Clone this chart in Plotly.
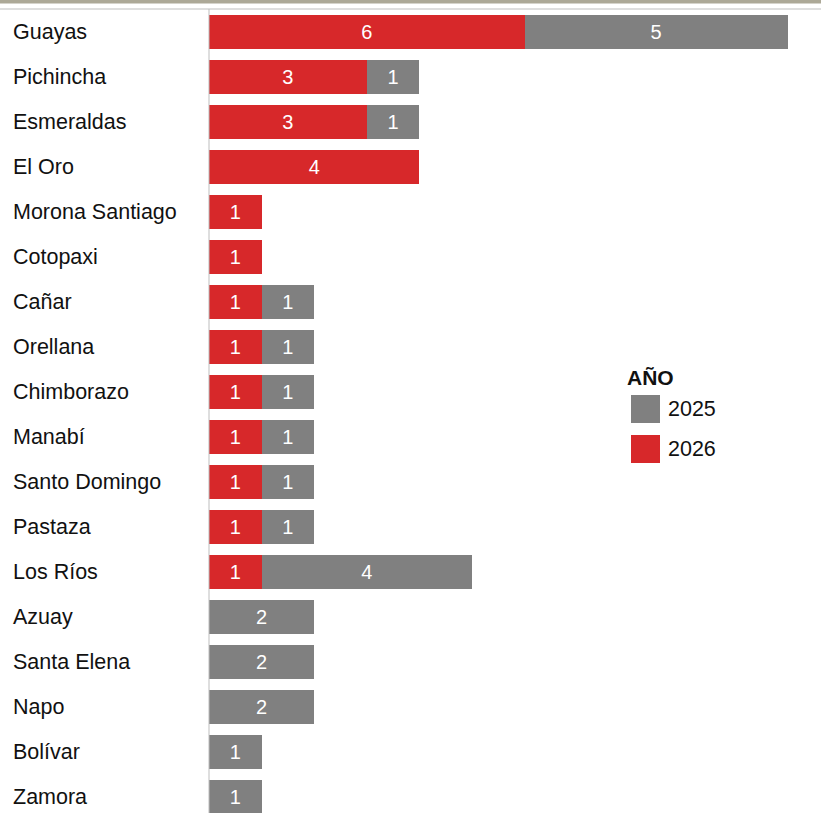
import plotly.graph_objects as go

provincias = ["Guayas", "Pichincha", "Esmeraldas", "El Oro", "Morona Santiago", "Cotopaxi",
              "Cañar", "Orellana", "Chimborazo", "Manabí", "Santo Domingo", "Pastaza",
              "Los Ríos", "Azuay", "Santa Elena", "Napo", "Bolívar", "Zamora"]
v2026 = [6, 3, 3, 4, 1, 1, 1, 1, 1, 1, 1, 1, 1, None, None, None, None, None]
v2025 = [5, 1, 1, None, None, None, 1, 1, 1, 1, 1, 1, 4, 2, 2, 2, 1, 1]
legend_title = "AÑO"
series_names = ["2025", "2026"]

RED = "#d7282a"
GRAY = "#808080"
FONT = "Arial, Liberation Sans, Helvetica, sans-serif"

W, H = 821, 813
L, R, T, B = 209, 0, 9, 0
pw, ph = W - L - R, H - T - B

def px_x(x):
    return (x - L) / pw

def px_y(y):
    return (H - B - y) / ph

idx = list(range(len(provincias)))

fig = go.Figure()
fig.add_trace(go.Bar(y=idx, x=v2026, orientation="h", name="2026",
                     marker=dict(color=RED, line=dict(width=0)),
                     text=v2026, textposition="inside", insidetextanchor="middle",
                     textfont=dict(color="white", size=20, family=FONT),
                     showlegend=False, hoverinfo="skip"))
fig.add_trace(go.Bar(y=idx, x=v2025, orientation="h", name="2025",
                     marker=dict(color=GRAY, line=dict(width=0)),
                     text=v2025, textposition="inside", insidetextanchor="middle",
                     textfont=dict(color="white", size=20, family=FONT),
                     showlegend=False, hoverinfo="skip"))

annotations = []
for i, p in enumerate(provincias):
    annotations.append(dict(x=px_x(11), xref="paper", y=i, yref="y", text=p,
                            xanchor="left", yanchor="middle", showarrow=False,
                            font=dict(size=21.5, color="#111111", family=FONT)))

# custom legend
annotations.append(dict(x=px_x(625), xref="paper", y=px_y(377), yref="paper",
                        text="<b>" + legend_title + "</b>", xanchor="left", yanchor="middle",
                        showarrow=False, font=dict(size=21, color="#111111", family=FONT)))
shapes = []
for name, col, yc in [(series_names[0], GRAY, 409), (series_names[1], RED, 449)]:
    shapes.append(dict(type="rect", xref="paper", yref="paper",
                       x0=px_x(631), x1=px_x(660), y0=px_y(yc - 14), y1=px_y(yc + 14),
                       fillcolor=col, line=dict(width=0)))
    annotations.append(dict(x=px_x(666), xref="paper", y=px_y(yc), yref="paper",
                            text=name, xanchor="left", yanchor="middle", showarrow=False,
                            font=dict(size=21.5, color="#111111", family=FONT)))

# top decorative lines
shapes.append(dict(type="rect", xref="paper", yref="paper", x0=px_x(0), x1=1,
                   y0=px_y(0), y1=px_y(3.5), fillcolor="#aca897", line=dict(width=0)))
shapes.append(dict(type="line", xref="paper", yref="paper", x0=px_x(0), x1=1,
                   y0=px_y(9), y1=px_y(9), line=dict(color="#bdbdbd", width=1)))
shapes.append(dict(type="line", xref="paper", yref="paper", x0=0, x1=0,
                   y0=0, y1=1, line=dict(color="#bdbdbd", width=1)))

fig.update_layout(
    width=W, height=H, barmode="stack", bargap=0.244,
    margin=dict(l=L, r=R, t=T, b=B, pad=0),
    plot_bgcolor="white", paper_bgcolor="white",
    xaxis=dict(range=[0, pw / 52.6], showgrid=False, zeroline=False,
               showticklabels=False, showline=False, ticks=""),
    yaxis=dict(range=[17 + 16 / 45, -23 / 45], showgrid=False, zeroline=False,
               showticklabels=False, showline=False, ticks=""),
    annotations=annotations, shapes=shapes,
    font=dict(family=FONT), uniformtext=dict(minsize=10, mode="show"),
)

fig.write_html("out.html", config={"displayModeBar": False},
               post_script="document.body.style.margin='0';document.body.style.overflow='hidden';")
